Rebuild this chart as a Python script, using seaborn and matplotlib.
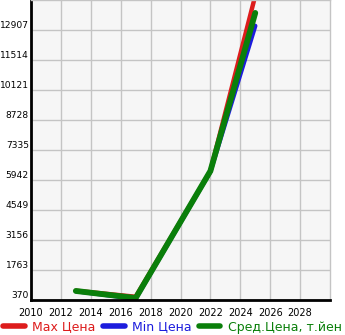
import matplotlib
matplotlib.use("Agg")
import matplotlib.pyplot as plt
import seaborn as sns
import pandas as pd

years = [2013, 2017, 2022, 2025]
max_price = [800, 520, 6360, 14500]
min_price = [780, 430, 6340, 13100]
avg_price = [790, 460, 6360, 13700]

series_names = ["Max Цена", "Min Цена", "Сред.Цена, т.йен"]
series_colors = ["#dd1c1c", "#1c1cdd", "#0a7f0a"]
series_widths = [3.2, 3.2, 4.2]

y_ticks = [370, 1763, 3156, 4549, 5942, 7335, 8728, 10121, 11514, 12907]
x_ticks = [2010, 2012, 2014, 2016, 2018, 2020, 2022, 2024, 2026, 2028]

sns.set_style("white")
plt.rcParams["font.family"] = ["DejaVu Sans"]

df = pd.DataFrame({
    "year": years * 3,
    "price": max_price + min_price + avg_price,
    "series": [series_names[0]] * 4 + [series_names[1]] * 4 + [series_names[2]] * 4,
})

fig = plt.figure(figsize=(3.45, 3.35), dpi=100)
ax = fig.add_axes([31 / 345, 35 / 335, 299 / 345, 300 / 335])
ax.set_facecolor("#f6f6f6")

for name, color, lw in zip(series_names, series_colors, series_widths):
    sub = df[df["series"] == name]
    sns.lineplot(data=sub, x="year", y="price", ax=ax, color=color, linewidth=lw,
                 label=name, solid_capstyle="round", legend=False)

ax.set_xlim(2010, 2030)
ax.set_ylim(370, 14300)
ax.set_xticks(x_ticks)
ax.set_yticks(y_ticks)
ax.set_xticklabels([str(t) for t in x_ticks], fontsize=7, color="black")
ax.set_yticklabels([str(t) for t in y_ticks], fontsize=6.6, color="black")
for lbl in ax.get_yticklabels():
    lbl.set_verticalalignment("bottom")
ax.grid(True, color="#c4c4c4", linewidth=1)
ax.set_axisbelow(True)
ax.set_xlabel("")
ax.set_ylabel("")
ax.tick_params(axis="both", length=3, width=1, color="black")
ax.tick_params(axis="y", pad=-1.5)
ax.tick_params(axis="x", pad=3)
for s in ["left", "bottom"]:
    ax.spines[s].set_color("black")
    ax.spines[s].set_linewidth(2)
for s in ["top", "right"]:
    ax.spines[s].set_color("#c4c4c4")
    ax.spines[s].set_linewidth(1)

handles, labels = ax.get_legend_handles_labels()
leg = fig.legend(handles, labels, loc="center", bbox_to_anchor=(0.5, 8 / 335), ncol=3,
                 frameon=False, fontsize=9, handlelength=1.75, handletextpad=0.6,
                 columnspacing=0.55, borderaxespad=0, borderpad=0)
for text, color in zip(leg.get_texts(), series_colors):
    text.set_color(color)
for line in leg.get_lines():
    line.set_linewidth(4)
    line.set_solid_capstyle("round")

fig.savefig("out.png", dpi=100)
